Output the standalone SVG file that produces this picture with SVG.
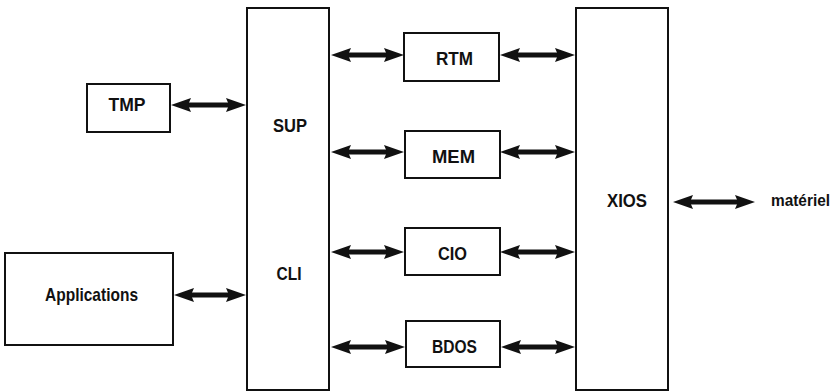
<svg xmlns="http://www.w3.org/2000/svg" width="838" height="392" viewBox="0 0 838 392">
<style>
.box{fill:#fff;stroke:#111;stroke-width:2}
.lbl{font-family:"Liberation Sans Narrow","Liberation Sans",Arial,sans-serif;font-weight:bold;font-size:19px;fill:#111;text-anchor:middle}
.small{font-size:17px}
.arr{stroke:#111;stroke-width:5;fill:none;marker-start:url(#head);marker-end:url(#head)}
</style>
<defs>
<marker id="head" markerUnits="userSpaceOnUse" markerWidth="22" markerHeight="16" refX="11" refY="7.5" orient="auto-start-reverse" viewBox="0 0 22 16">
<path d="M0,0.5 L20,7.5 L0,14.5 L3,7.5 z" fill="#111"/>
</marker>
</defs>
<rect width="838" height="392" fill="#fff"/>
<g id="connectors">
<line class="arr" x1="180" y1="105" x2="237" y2="105"/>
<line class="arr" x1="183" y1="295" x2="237" y2="295"/>
<line class="arr" x1="340" y1="55" x2="395" y2="55"/>
<line class="arr" x1="509" y1="55" x2="566" y2="55"/>
<line class="arr" x1="340" y1="152" x2="395" y2="152"/>
<line class="arr" x1="509" y1="152" x2="566" y2="152"/>
<line class="arr" x1="340" y1="252" x2="395" y2="252"/>
<line class="arr" x1="509" y1="252" x2="566" y2="252"/>
<line class="arr" x1="340" y1="347" x2="396" y2="347"/>
<line class="arr" x1="510" y1="347" x2="566" y2="347"/>
<line class="arr" x1="682" y1="202" x2="746" y2="202"/>
</g>
<g id="tmp">
<rect class="box" x="87" y="84" width="83" height="48"/>
<text class="lbl" x="127" y="111" textLength="37" lengthAdjust="spacingAndGlyphs">TMP</text>
</g>
<g id="applications">
<rect class="box" x="5" y="253" width="168" height="92"/>
<text class="lbl" x="91.5" y="301" textLength="93" lengthAdjust="spacingAndGlyphs">Applications</text>
</g>
<g id="sup-cli">
<rect class="box" x="247" y="8" width="82" height="382"/>
<text class="lbl" x="290" y="132" textLength="34" lengthAdjust="spacingAndGlyphs">SUP</text>
<text class="lbl" x="289" y="280" textLength="25" lengthAdjust="spacingAndGlyphs">CLI</text>
</g>
<g id="rtm">
<rect class="box" x="404" y="33" width="95" height="48"/>
<text class="lbl" x="454.5" y="65" textLength="37" lengthAdjust="spacingAndGlyphs">RTM</text>
</g>
<g id="mem">
<rect class="box" x="405" y="131" width="95" height="47"/>
<text class="lbl" x="453.5" y="163" textLength="43" lengthAdjust="spacingAndGlyphs">MEM</text>
</g>
<g id="cio">
<rect class="box" x="405" y="228" width="95" height="47"/>
<text class="lbl" x="452.5" y="260" textLength="29" lengthAdjust="spacingAndGlyphs">CIO</text>
</g>
<g id="bdos">
<rect class="box" x="406" y="321" width="94" height="46"/>
<text class="lbl" x="454.5" y="353" textLength="45" lengthAdjust="spacingAndGlyphs">BDOS</text>
</g>
<g id="xios">
<rect class="box" x="576" y="8" width="92" height="382"/>
<text class="lbl" x="627" y="207" textLength="40" lengthAdjust="spacingAndGlyphs">XIOS</text>
</g>
<g id="materiel">
<text class="lbl small" x="800.5" y="206" textLength="59" lengthAdjust="spacingAndGlyphs">matériel</text>
</g>
</svg>
